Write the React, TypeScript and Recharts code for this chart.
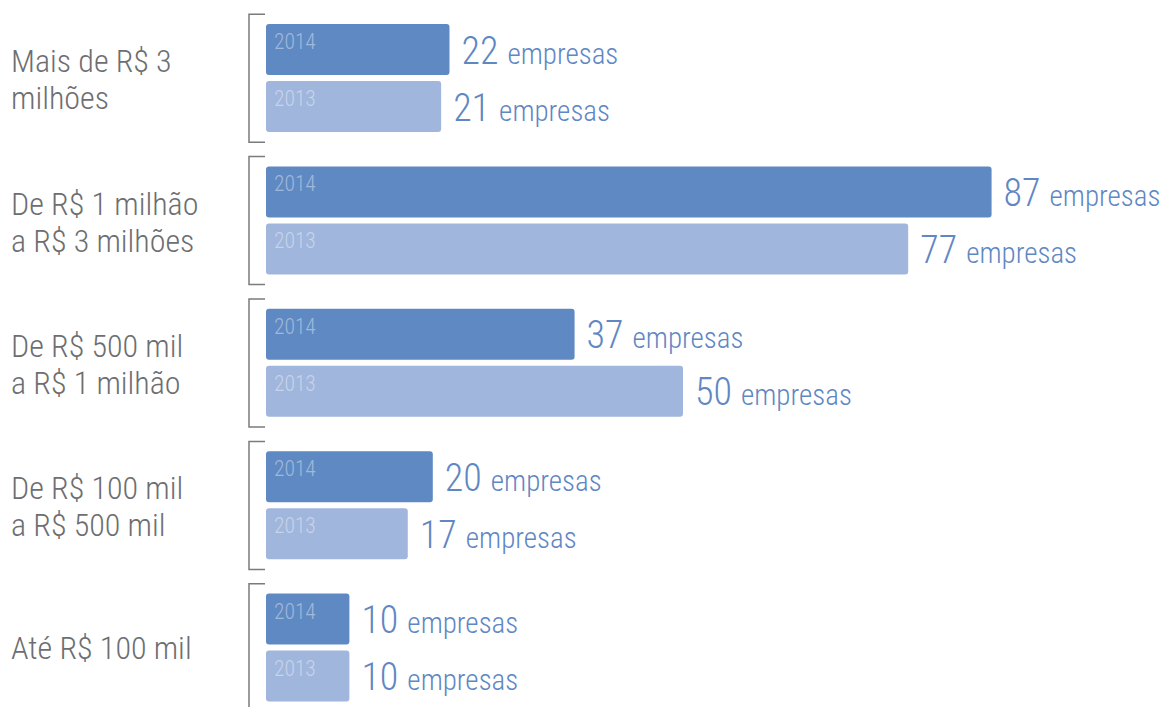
import React from 'react';
import { BarChart, Bar, XAxis, YAxis, LabelList } from 'recharts';

const categories = [
  ['Mais de R$ 3', 'milhões'],
  ['De R$ 1 milhão', 'a R$ 3 milhões'],
  ['De R$ 500 mil', 'a R$ 1 milhão'],
  ['De R$ 100 mil', 'a R$ 500 mil'],
  ['Até R$ 100 mil'],
];
const values2014 = [22, 87, 37, 20, 10];
const values2013 = [21, 77, 50, 17, 10];
const seriesNames = ['2014', '2013'];
const unitLabel = 'empresas';

const data = categories.map((lines, i) => ({
  name: lines.join('\n'),
  v2014: values2014[i],
  v2013: values2013[i],
}));

const FONT = "'Roboto Condensed', 'Roboto', sans-serif";
const C2014 = '#5f89c2';
const C2013 = '#a1b6dc';
const TEXT_BLUE = '#5f87c3';
const GRAY = '#6d6e71';
const BRACKET = '#7a7b7e';

const CategoryTick = (props: any) => {
  const { y, payload } = props;
  const lines: string[] = String(payload.value).split('\n');
  const baseY = lines.length === 1 ? [y + 11] : [y - 6, y + 31];
  return (
    <g>
      <path
        d={`M265,${y - 64} L249,${y - 64} L249,${y + 64} L265,${y + 64}`}
        fill="none"
        stroke={BRACKET}
        strokeWidth={1.5}
      />
      {lines.map((l, i) => (
        <text
          key={i}
          x={11}
          y={baseY[i]}
          fontFamily={FONT}
          fontWeight={300}
          fontSize={32}
          fill={GRAY}
        >
          {l}
        </text>
      ))}
    </g>
  );
};

const makeYearLabel = (year: string) => (props: any) => {
  const { x, y } = props;
  return (
    <text
      x={x + 8}
      y={y + 25}
      fontFamily={FONT}
      fontWeight={300}
      fontSize={21.5}
      fill="rgba(255,255,255,0.42)"
    >
      {year}
    </text>
  );
};

const ValueLabel = (props: any) => {
  const { x, y, width, height, value } = props;
  return (
    <text
      x={x + width + 12}
      y={y + height / 2 + 14}
      fontFamily={FONT}
      fontWeight={300}
      fill={TEXT_BLUE}
    >
      <tspan fontSize={38}>{value}</tspan>
      <tspan fontSize={29} dx={9}>
        {unitLabel}
      </tspan>
    </text>
  );
};

export default function App() {
  return (
    <div style={{ position: 'absolute', left: 0, top: 0, background: '#fff' }}>
      <BarChart
        width={1168}
        height={730}
        data={data}
        layout="vertical"
        margin={{ top: 7, right: 68, bottom: 11, left: 0 }}
        barSize={51}
        barGap={6}
      >
        <XAxis type="number" hide domain={[0, 100]} />
        <YAxis
          type="category"
          dataKey="name"
          width={266}
          axisLine={false}
          tickLine={false}
          tick={<CategoryTick />}
          interval={0}
        />
        <Bar dataKey="v2014" fill={C2014} radius={3} isAnimationActive={false}>
          <LabelList dataKey="v2014" content={makeYearLabel(seriesNames[0])} />
          <LabelList dataKey="v2014" content={ValueLabel} />
        </Bar>
        <Bar dataKey="v2013" fill={C2013} radius={3} isAnimationActive={false}>
          <LabelList dataKey="v2013" content={makeYearLabel(seriesNames[1])} />
          <LabelList dataKey="v2013" content={ValueLabel} />
        </Bar>
      </BarChart>
    </div>
  );
}
